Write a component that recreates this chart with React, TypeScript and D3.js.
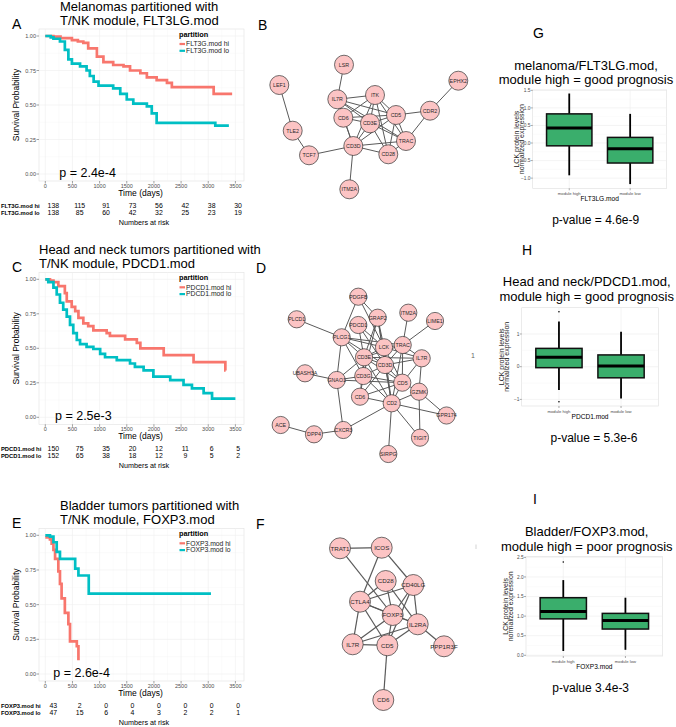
import React from 'react';
import * as d3 from 'd3';

const FONT = "'Liberation Sans', Arial, Helvetica, sans-serif";
const HI = '#F8766D';
const LO = '#00BFC4';
const BOXFILL = '#3aae6c';

// ---------- Kaplan-Meier data ----------
const timeTicks = [0, 500, 1000, 1500, 2000, 2500, 3000, 3500];
const survTicks = [0, 0.25, 0.5, 0.75, 1];

const melHiTime = [0, 150, 280, 490, 600, 700, 790, 950, 1070, 1250, 1440, 1560, 1750, 1870, 2050, 2240, 2330, 3100, 3440];
const melHiSurv = [1.0, 0.995, 0.985, 0.97, 0.96, 0.95, 0.91, 0.85, 0.81, 0.79, 0.78, 0.75, 0.73, 0.70, 0.68, 0.66, 0.63, 0.58, 0.58];
const melLoTime = [0, 100, 150, 270, 360, 425, 490, 640, 760, 820, 890, 980, 1250, 1380, 1500, 1620, 1870, 1960, 2050, 3130, 3380];
const melLoSurv = [1.0, 0.99, 0.98, 0.96, 0.90, 0.83, 0.80, 0.78, 0.75, 0.71, 0.67, 0.64, 0.62, 0.58, 0.54, 0.51, 0.49, 0.44, 0.37, 0.35, 0.35];

const hnHiTime = [0, 86, 150, 240, 360, 395, 486, 550, 610, 700, 790, 885, 1130, 1190, 1470, 1685, 1750, 2180, 2730, 3315, 3320];
const hnHiSurv = [1.0, 0.99, 0.98, 0.95, 0.90, 0.84, 0.80, 0.77, 0.72, 0.68, 0.66, 0.63, 0.61, 0.59, 0.565, 0.54, 0.50, 0.45, 0.40, 0.34, 0.34];
const hnLoTime = [0, 55, 150, 210, 270, 330, 395, 455, 515, 580, 640, 760, 885, 1010, 1100, 1316, 1560, 1650, 1810, 1990, 2300, 2545, 2700, 2915, 3070, 3500];
const hnLoSurv = [1.0, 0.98, 0.94, 0.89, 0.83, 0.78, 0.73, 0.67, 0.61, 0.56, 0.53, 0.51, 0.495, 0.46, 0.435, 0.415, 0.39, 0.365, 0.34, 0.295, 0.27, 0.235, 0.21, 0.175, 0.135, 0.135];

const blHiTime = [0, 86, 117, 150, 180, 240, 270, 300, 360, 425, 455, 580, 610];
const blHiSurv = [0.985, 0.97, 0.94, 0.895, 0.83, 0.74, 0.65, 0.545, 0.44, 0.36, 0.235, 0.2, 0.10];
const blLoTime = [0, 86, 150, 210, 270, 550, 610, 800, 3050];
const blLoSurv = [1.0, 0.99, 0.95, 0.88, 0.83, 0.76, 0.71, 0.58, 0.58];

const melHiRisk = [138, 115, 91, 73, 56, 42, 38, 30];
const melLoRisk = [138, 85, 60, 42, 32, 25, 23, 19];
const hnHiRisk = [150, 75, 35, 20, 12, 11, 6, 5];
const hnLoRisk = [152, 65, 38, 18, 12, 9, 5, 2];
const blHiRisk = [43, 2, 0, 0, 0, 0, 0, 0];
const blLoRisk = [47, 15, 6, 4, 3, 2, 2, 1];

// ---------- Box plot data: [whiskerLow, Q1, median, Q3, whiskerHigh] ----------
const boxCats = ['module high', 'module low'];
const melHighBox = [-0.92, -0.08, 0.43, 0.83, 1.41];
const melLowBox = [-1.17, -0.57, -0.16, 0.16, 0.83];
const hnHighBox = [-0.71, -0.03, 0.29, 0.56, 1.38];
const hnLowBox = [-0.97, -0.34, 0.02, 0.36, 1.07];
const hnHighOut = [1.68, -1.07];
const blHighBox = [0.11, 0.93, 1.12, 1.47, 1.92];
const blLowBox = [0.14, 0.67, 0.89, 1.07, 1.47];
const blHighOut = [2.38];
const melTicks = [-1.0, -0.5, 0.0, 0.5, 1.0, 1.5];
const hnTicks = [-1, 0, 1];
const blTicks = [0.0, 0.5, 1.0, 1.5, 2.0, 2.5];

// ---------- Network data (layout coordinates) ----------
type Node = [string, number, number];
const netBNodes: Node[] = [
  ['LSR', 104, 34.7], ['LEF1', 39.3, 55], ['EPHX2', 218.3, 50.7], ['IL7R', 97.3, 69.3], ['ITK', 135, 65],
  ['CD6', 103.3, 87.7], ['CD3E', 130, 93.3], ['CD5', 156, 85], ['CDR2', 190, 80.7], ['TLE2', 52.7, 100.7],
  ['TRAC', 166, 111], ['CD3D', 113.3, 116], ['CD28', 148.3, 124.3], ['TCF7', 69, 125.3], ['ITM2A', 109.3, 159.3],
];
const netBEdges: [string, string][] = [
  ['LSR', 'IL7R'], ['LEF1', 'TLE2'], ['TLE2', 'TCF7'], ['TCF7', 'CD3D'], ['CD3D', 'ITM2A'], ['CDR2', 'EPHX2'],
  ['CD5', 'CDR2'], ['CDR2', 'TRAC'], ['IL7R', 'ITK'], ['IL7R', 'CD5'], ['IL7R', 'CD3E'], ['IL7R', 'CD3D'],
  ['ITK', 'CD6'], ['ITK', 'CD3E'], ['ITK', 'CD5'], ['ITK', 'TRAC'], ['ITK', 'CD3D'], ['ITK', 'CD28'],
  ['CD6', 'CD5'], ['CD6', 'CD3E'], ['CD6', 'CD3D'], ['CD3E', 'CD5'], ['CD3E', 'CD3D'], ['CD3E', 'TRAC'],
  ['CD3E', 'CD28'], ['CD5', 'TRAC'], ['CD5', 'CD3D'], ['CD5', 'CD28'], ['TRAC', 'CD3D'], ['TRAC', 'CD28'],
  ['CD3D', 'CD28'], ['IL7R', 'TRAC'],
];

const netDNodes: Node[] = [
  ['PDGFB', 118.3, 46.7], ['PLCD1', 56.7, 69.3], ['GRAP2', 137.7, 67.7], ['ITM2A', 168.3, 62.7], ['LIME1', 195, 71],
  ['PDCD1', 118.3, 75], ['PLCG1', 101.7, 87.3], ['LCK', 144, 97.3], ['TRAC', 162.7, 95], ['IL7R', 181.7, 108.3],
  ['CD3E', 124, 107.3], ['CD3D', 145, 115], ['UBASH3A', 65, 123.3], ['CD3G', 123.3, 126], ['GNAO1', 96.7, 130],
  ['CD5', 162.3, 132.7], ['GZMK', 179, 141.7], ['CD6', 120, 146.7], ['CD2', 151.7, 153.3], ['GPR174', 206.5, 165.5],
  ['ACE', 40.7, 175], ['DPP4', 74, 184.3], ['CXCR3', 103.3, 180], ['TIGIT', 180, 187.7], ['SIRPG', 148.3, 204],
];
const netDEdges: [string, string][] = [
  ['PLCD1', 'PLCG1'], ['PDGFB', 'PLCG1'], ['PDGFB', 'LCK'], ['PDGFB', 'GRAP2'], ['ITM2A', 'TRAC'], ['LIME1', 'TRAC'],
  ['PLCG1', 'GNAO1'], ['PLCG1', 'LCK'], ['PLCG1', 'CD3E'], ['PLCG1', 'CD3D'], ['PLCG1', 'TRAC'], ['PLCG1', 'CD3G'],
  ['PDCD1', 'CD3E'], ['PDCD1', 'LCK'], ['PDCD1', 'CD3D'], ['GRAP2', 'LCK'], ['GRAP2', 'CD3E'], ['GRAP2', 'CD3D'],
  ['GRAP2', 'CD2'], ['GRAP2', 'CD3G'], ['LCK', 'TRAC'], ['LCK', 'CD3E'], ['LCK', 'CD3D'], ['LCK', 'CD5'], ['LCK', 'CD2'],
  ['LCK', 'IL7R'], ['TRAC', 'IL7R'], ['TRAC', 'CD3D'], ['TRAC', 'CD5'], ['TRAC', 'CD2'], ['TRAC', 'CD3E'],
  ['IL7R', 'CD5'], ['IL7R', 'GZMK'], ['IL7R', 'CD3D'], ['IL7R', 'CD3E'], ['CD3E', 'CD3D'], ['CD3E', 'CD3G'],
  ['CD3E', 'GNAO1'], ['CD3E', 'CD6'], ['CD3E', 'CD5'], ['CD3D', 'CD3G'], ['CD3D', 'CD5'], ['CD3D', 'CD2'],
  ['CD3D', 'CD6'], ['CD3G', 'GNAO1'], ['CD3G', 'CD5'], ['CD3G', 'CD6'], ['CD3G', 'CD2'], ['UBASH3A', 'GNAO1'],
  ['GNAO1', 'CXCR3'], ['GNAO1', 'CD5'], ['CD5', 'CD2'], ['CD5', 'GZMK'], ['CD6', 'CD2'], ['CD6', 'CD5'],
  ['CD2', 'GZMK'], ['CD2', 'GPR174'], ['CD2', 'TIGIT'], ['CD2', 'SIRPG'], ['CD2', 'CXCR3'], ['GZMK', 'GPR174'],
  ['GZMK', 'TIGIT'], ['ACE', 'DPP4'], ['DPP4', 'CXCR3'], ['CD3E', 'CD2'],
];

const netFNodes: Node[] = [
  ['TRAT1', 100, 48.3], ['ICOS', 141.7, 47.7], ['CD28', 145.7, 81], ['CD40LG', 173.3, 85], ['CTLA4', 120, 101.7],
  ['FOXP3', 152.7, 115], ['IL2RA', 177.7, 124.3], ['IL7R', 112.7, 144.3], ['CD5', 147.3, 145.3],
  ['PPP1R3F', 204, 146.3], ['CD6', 143.3, 200],
];
const netFEdges: [string, string][] = [
  ['TRAT1', 'ICOS'], ['TRAT1', 'FOXP3'], ['ICOS', 'CTLA4'], ['ICOS', 'CD40LG'], ['CD28', 'CTLA4'], ['CD28', 'FOXP3'],
  ['CD28', 'IL2RA'], ['CD40LG', 'CTLA4'], ['CD40LG', 'FOXP3'], ['CD40LG', 'IL2RA'], ['CD40LG', 'CD5'],
  ['CTLA4', 'FOXP3'], ['CTLA4', 'IL2RA'], ['CTLA4', 'IL7R'], ['CTLA4', 'CD5'], ['FOXP3', 'IL7R'], ['FOXP3', 'CD5'],
  ['FOXP3', 'IL2RA'], ['IL2RA', 'CD5'], ['IL2RA', 'IL7R'], ['IL2RA', 'PPP1R3F'], ['IL7R', 'CD5'], ['CD5', 'CD6'],
];

// ---------- Components ----------
type KMProps = {
  y1: number; y0: number; titleX: number; title: [string, string]; letter: string;
  hiT: number[]; hiS: number[]; loT: number[]; loS: number[]; labels: [string, string];
  riskHi: number[]; riskLo: number[]; pText: string; pX: number;
};

function KMPanel(p: KMProps) {
  const x = d3.scaleLinear().domain([0, 3500]).range([45.3, 235.4]);
  const y = d3.scaleLinear().domain([0, 1]).range([p.y0, p.y1]);
  const rx = d3.scaleLinear().domain([0, 3500]).range([53.3, 238.1]);
  const line = d3.line<[number, number]>().x(d => x(d[0])).y(d => y(d[1])).curve(d3.curveStepAfter);
  const hi = p.hiT.map((t, i) => [t, p.hiS[i]] as [number, number]);
  const lo = p.loT.map((t, i) => [t, p.loS[i]] as [number, number]);
  const pl = 39, pr = 244, pt = p.y1 - 7, pb = p.y0 + 7;
  const minorY = [0.125, 0.375, 0.625, 0.875];
  const minorX = [250, 750, 1250, 1750, 2250, 2750, 3250];
  return (
    <g fontFamily={FONT}>
      <text x={p.titleX} y={p.y1 - 25} fontSize={13}>{p.title[0]}</text>
      <text x={p.titleX} y={p.y1 - 11.3} fontSize={13}>{p.title[1]}</text>
      <text x={12} y={p.y1 - 7.3} fontSize={14}>{p.letter}</text>
      <rect x={pl} y={pt} width={pr - pl} height={pb - pt} fill="#fff" stroke="#e2e2e2" strokeWidth={0.6} />
      {minorY.map(v => <line key={'my' + v} x1={pl} x2={pr} y1={y(v)} y2={y(v)} stroke="#f6f6f6" strokeWidth={0.4} />)}
      {minorX.map(v => <line key={'mx' + v} x1={x(v)} x2={x(v)} y1={pt} y2={pb} stroke="#f6f6f6" strokeWidth={0.4} />)}
      {survTicks.map(v => <line key={'gy' + v} x1={pl} x2={pr} y1={y(v)} y2={y(v)} stroke="#efefef" strokeWidth={0.6} />)}
      {timeTicks.map(v => <line key={'gx' + v} x1={x(v)} x2={x(v)} y1={pt} y2={pb} stroke="#efefef" strokeWidth={0.6} />)}
      <path d={line(hi) || ''} fill="none" stroke={HI} strokeWidth={2.7} />
      <path d={line(lo) || ''} fill="none" stroke={LO} strokeWidth={2.7} />
      {survTicks.map(v => (
        <g key={'ty' + v}>
          <line x1={pl - 2.5} x2={pl} y1={y(v)} y2={y(v)} stroke="#444" strokeWidth={0.5} />
          <text x={pl - 3} y={y(v) + 2} fontSize={5.5} fill="#4d4d4d" textAnchor="end">{d3.format('.2f')(v)}</text>
        </g>
      ))}
      {timeTicks.map(v => (
        <g key={'tx' + v}>
          <line x1={x(v)} x2={x(v)} y1={pb} y2={pb + 2.5} stroke="#444" strokeWidth={0.5} />
          <text x={x(v)} y={p.y0 + 14} fontSize={5.5} fill="#4d4d4d" textAnchor="middle">{v}</text>
        </g>
      ))}
      <text x={140.5} y={p.y0 + 21.6} fontSize={8.5} textAnchor="middle">Time (days)</text>
      <text transform={`translate(19,${(p.y0 + p.y1) / 2}) rotate(-90)`} fontSize={8.5} textAnchor="middle">Survival Probability</text>
      <text x={179} y={p.y1 + 0.6} fontSize={7.3} fontWeight="bold">partition</text>
      <line x1={179.5} x2={185} y1={p.y1 + 8} y2={p.y1 + 8} stroke={HI} strokeWidth={2.2} />
      <line x1={179.5} x2={185} y1={p.y1 + 14.8} y2={p.y1 + 14.8} stroke={LO} strokeWidth={2.2} />
      <text x={186} y={p.y1 + 10.2} fontSize={6.8} fill="#222">{p.labels[0]}</text>
      <text x={186} y={p.y1 + 17} fontSize={6.8} fill="#222">{p.labels[1]}</text>
      <text x={p.pX} y={p.y0 + 2.5} fontSize={12.5}>{p.pText}</text>
      <text x={1} y={p.y0 + 33.6} fontSize={5.8} fontWeight="bold">{p.labels[0]}</text>
      <text x={1} y={p.y0 + 40.6} fontSize={5.8} fontWeight="bold">{p.labels[1]}</text>
      {timeTicks.map((t, i) => (
        <g key={'r' + t}>
          <text x={rx(t)} y={p.y0 + 33.6} fontSize={6.9} textAnchor="middle">{p.riskHi[i]}</text>
          <text x={rx(t)} y={p.y0 + 40.6} fontSize={6.9} textAnchor="middle">{p.riskLo[i]}</text>
        </g>
      ))}
      <text x={144} y={p.y0 + 51} fontSize={7.2} textAnchor="middle">Numbers at risk</text>
    </g>
  );
}

type BoxProps = {
  left: number; right: number; top: number; bottom: number; domain: [number, number];
  ticks: number[]; fmt: string; high: number[]; low: number[]; outHigh: number[];
  title: [string, string]; titleX: number; titleY: number; xlabel: string; pText: string; pX: number; pY: number;
  ylabX: number; letter: string; letterX: number; letterY: number;
};

function BoxPanel(p: BoxProps) {
  const y = d3.scaleLinear().domain(p.domain).range([p.bottom, p.top]);
  const x = d3.scalePoint<string>().domain(boxCats).range([p.left, p.right]).padding(0.6);
  const bw = x.step() * 0.745;
  const fmt = d3.format(p.fmt);
  const minor = p.ticks.slice(0, -1).map((t, i) => (t + p.ticks[i + 1]) / 2);
  const cy = (p.top + p.bottom) / 2;
  const cx = (p.left + p.right) / 2;
  const stats = [p.high, p.low];
  return (
    <g fontFamily={FONT}>
      <text x={p.letterX} y={p.letterY} fontSize={14}>{p.letter}</text>
      <text x={p.titleX} y={p.titleY} fontSize={13} textAnchor="middle">{p.title[0]}</text>
      <text x={p.titleX} y={p.titleY + 14.7} fontSize={13} textAnchor="middle">{p.title[1]}</text>
      <rect x={p.left} y={p.top} width={p.right - p.left} height={p.bottom - p.top} fill="#fff" stroke="#dedede" strokeWidth={0.6} />
      {minor.map(v => <line key={'m' + v} x1={p.left} x2={p.right} y1={y(v)} y2={y(v)} stroke="#f5f5f5" strokeWidth={0.4} />)}
      {p.ticks.map(v => <line key={'g' + v} x1={p.left} x2={p.right} y1={y(v)} y2={y(v)} stroke="#ececec" strokeWidth={0.6} />)}
      {boxCats.map(c => <line key={'v' + c} x1={x(c)} x2={x(c)} y1={p.top} y2={p.bottom} stroke="#ececec" strokeWidth={0.6} />)}
      {boxCats.map((c, i) => {
        const s = stats[i];
        const cx0 = x(c) as number;
        return (
          <g key={c}>
            <line x1={cx0} x2={cx0} y1={y(s[0])} y2={y(s[1])} stroke="#000" strokeWidth={1.8} />
            <line x1={cx0} x2={cx0} y1={y(s[3])} y2={y(s[4])} stroke="#000" strokeWidth={1.8} />
            <rect x={cx0 - bw / 2} y={y(s[3])} width={bw} height={y(s[1]) - y(s[3])} fill={BOXFILL} stroke="#111" strokeWidth={1.5} />
            <line x1={cx0 - bw / 2} x2={cx0 + bw / 2} y1={y(s[2])} y2={y(s[2])} stroke="#000" strokeWidth={3} />
          </g>
        );
      })}
      {p.outHigh.map(v => <circle key={'o' + v} cx={x(boxCats[0])} cy={y(v)} r={0.8} fill="#000" />)}
      {p.ticks.map(v => (
        <g key={'t' + v}>
          <line x1={p.left - 2} x2={p.left} y1={y(v)} y2={y(v)} stroke="#555" strokeWidth={0.5} />
          <text x={p.left - 2.3} y={y(v) + 1.7} fontSize={4.8} fill="#4d4d4d" textAnchor="end">{fmt(v)}</text>
        </g>
      ))}
      {boxCats.map(c => (
        <g key={'xl' + c}>
          <line x1={x(c)} x2={x(c)} y1={p.bottom} y2={p.bottom + 2} stroke="#555" strokeWidth={0.5} />
          <text x={x(c)} y={p.bottom + 6.5} fontSize={4.2} fill="#4d4d4d" textAnchor="middle">{c}</text>
        </g>
      ))}
      <text x={cx} y={p.bottom + 12.8} fontSize={6.6} textAnchor="middle">{p.xlabel}</text>
      <text transform={`translate(${p.ylabX},${cy}) rotate(-90)`} fontSize={7} textAnchor="middle" fill="#222">LCK protein levels</text>
      <text transform={`translate(${p.ylabX + 5},${cy}) rotate(-90)`} fontSize={7} textAnchor="middle" fill="#222">normalized expression</text>
      <text x={p.pX} y={p.pY} fontSize={12} textAnchor="middle">{p.pText}</text>
    </g>
  );
}

type NetProps = { nodes: Node[]; edges: [string, string][]; ox: number; oy: number; r: number; fs: number; sw: number; letter: string; lx: number; ly: number };

function Network(p: NetProps) {
  const x = d3.scaleLinear().domain([0, 220]).range([p.ox, p.ox + 220]);
  const y = d3.scaleLinear().domain([0, 220]).range([p.oy, p.oy + 220]);
  const pos = new Map(p.nodes.map(n => [n[0], n] as [string, Node]));
  return (
    <g fontFamily={FONT}>
      <text x={p.lx} y={p.ly} fontSize={14}>{p.letter}</text>
      {p.edges.map(([a, b], i) => {
        const na = pos.get(a)!, nb = pos.get(b)!;
        return <line key={i} x1={x(na[1])} y1={y(na[2])} x2={x(nb[1])} y2={y(nb[2])} stroke="#5a5a5a" strokeWidth={p.sw} />;
      })}
      {p.nodes.map(n => (
        <circle key={'c' + n[0]} cx={x(n[1])} cy={y(n[2])} r={p.r} fill="#fcc4c4" stroke="#333" strokeWidth={0.7} />
      ))}
      {p.nodes.map(n => (
        <text key={'t' + n[0]} x={x(n[1])} y={y(n[2]) + p.fs * 0.36} fontSize={p.fs} textAnchor="middle" fill="#2a2a2a">{n[0]}</text>
      ))}
    </g>
  );
}

export default function App() {
  return (
    <svg width={676} height={727} style={{ position: 'absolute', left: 0, top: 0, background: '#fff' }}>
      <rect x={0} y={0} width={676} height={727} fill="#fff" />
      <KMPanel y1={36} y0={174} titleX={60} title={['Melanomas partitioned with', 'T/NK module, FLT3LG.mod']} letter="A"
        hiT={melHiTime} hiS={melHiSurv} loT={melLoTime} loS={melLoSurv} labels={['FLT3G.mod hi', 'FLT3G.mod lo']}
        riskHi={melHiRisk} riskLo={melLoRisk} pText="p = 2.4e-4" pX={59.3} />
      <KMPanel y1={279.3} y0={417.3} titleX={39} title={['Head and neck tumors partitioned with', 'T/NK module, PDCD1.mod']} letter="C"
        hiT={hnHiTime} hiS={hnHiSurv} loT={hnLoTime} loS={hnLoSurv} labels={['PDCD1.mod hi', 'PDCD1.mod lo']}
        riskHi={hnHiRisk} riskLo={hnLoRisk} pText="p = 2.5e-3" pX={55} />
      <KMPanel y1={535.3} y0={674} titleX={60} title={['Bladder tumors partitioned with', 'T/NK module, FOXP3.mod']} letter="E"
        hiT={blHiTime} hiS={blHiSurv} loT={blLoTime} loS={blLoSurv} labels={['FOXP3.mod hi', 'FOXP3.mod lo']}
        riskHi={blHiRisk} riskLo={blLoRisk} pText="p = 2.6e-4" pX={53.3} />

      <Network nodes={netBNodes} edges={netBEdges} ox={240} oy={30} r={9.5} fs={5.3} sw={1} letter="B" lx={258} ly={30} />
      <Network nodes={netDNodes} edges={netDEdges} ox={240} oy={250} r={8.6} fs={5.3} sw={1} letter="D" lx={256} ly={273} />
      <Network nodes={netFNodes} edges={netFEdges} ox={240} oy={500} r={10.5} fs={6.2} sw={1.2} letter="F" lx={256} ly={529} />

      <BoxPanel left={532.7} right={666.7} top={90} bottom={188.3} domain={[-1.29, 1.51]} ticks={melTicks} fmt=".1f"
        high={melHighBox} low={melLowBox} outHigh={[]} title={['melanoma/FLT3LG.mod,', 'module high = good prognosis']}
        titleX={586} titleY={69.5} xlabel="FLT3LG.mod" pText="p-value = 4.6e-9" pX={595.7} pY={224}
        ylabX={518.5} letter="G" letterX={533} letterY={38} />
      <BoxPanel left={521.7} right={658.3} top={307.7} bottom={406} domain={[-1.202, 1.804]} ticks={hnTicks} fmt="d"
        high={hnHighBox} low={hnLowBox} outHigh={hnHighOut} title={['Head and neck/PDCD1.mod,', 'module high = good prognosis']}
        titleX={586.7} titleY={286} xlabel="PDCD1.mod" pText="p-value = 5.3e-6" pX={594} pY={442}
        ylabX={503.5} letter="H" letterX={522} letterY={255} />
      <BoxPanel left={526} right={662.7} top={556.7} bottom={656} domain={[-0.018, 2.517]} ticks={blTicks} fmt=".1f"
        high={blHighBox} low={blLowBox} outHigh={blHighOut} title={['Bladder/FOXP3.mod,', 'module high = poor prognosis']}
        titleX={586.7} titleY={536} xlabel="FOXP3.mod" pText="p-value 3.4e-3" pX={590.7} pY={692}
        ylabX={508} letter="I" letterX={533} letterY={504} />
      <text x={473} y={358} fontSize={7} fill="#666" fontFamily={FONT} textAnchor="middle">1</text>
      <line x1={476} x2={476} y1={544.5} y2={549} stroke="#c8c8c8" strokeWidth={0.8} />
    </svg>
  );
}
